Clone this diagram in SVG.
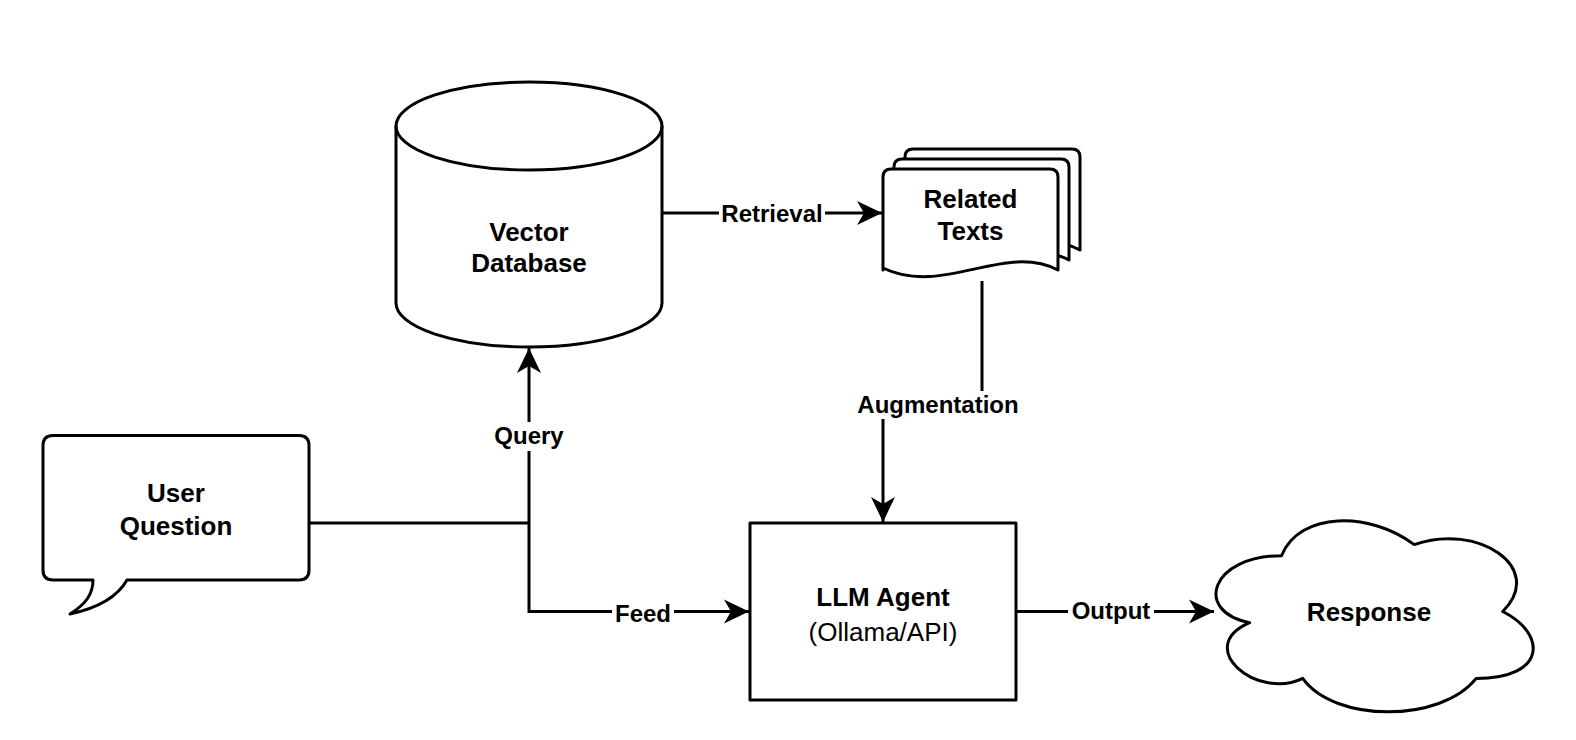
<svg xmlns="http://www.w3.org/2000/svg" width="1576" height="740" viewBox="0 0 1576 740">
<style>
.shape{fill:#fff;stroke:#000;stroke-width:3;stroke-linejoin:round}
.edge{fill:none;stroke:#000;stroke-width:3}
.nt{font-family:"Liberation Sans",Arial,sans-serif;font-size:26px;font-weight:bold;text-anchor:middle;fill:#000}
.nr{font-family:"Liberation Sans",Arial,sans-serif;font-size:26px;text-anchor:middle;fill:#000}
.lt{font-family:"Liberation Sans",Arial,sans-serif;font-size:24px;font-weight:bold;text-anchor:middle;fill:#000}
.bg{fill:#fff}
</style>
<defs>
<marker id="arr" markerUnits="userSpaceOnUse" markerWidth="28" markerHeight="28" viewBox="0 0 28 28" refX="26" refY="14" orient="auto">
<path d="M1,2 L26,14 L1,26 L8,14 Z" fill="#000"/>
</marker>
</defs>
<rect width="1576" height="740" fill="#fff"/>

<g id="connectors">
<path class="edge" d="M662,213 H882" marker-end="url(#arr)"/>
<path class="edge" d="M982,281 V404 H883 V522" marker-end="url(#arr)"/>
<path class="edge" d="M309,523 H529"/>
<path class="edge" d="M529,523 V348" marker-end="url(#arr)"/>
<path class="edge" d="M529,523 V611.5 H749" marker-end="url(#arr)"/>
<path class="edge" d="M1016,611.5 H1214" marker-end="url(#arr)"/>
<rect class="bg" x="719" y="200" width="106" height="26"/>
<text class="lt" x="772" y="221.5">Retrieval</text>
<rect class="bg" x="855" y="391" width="166" height="28"/>
<text class="lt" x="938" y="412.5">Augmentation</text>
<rect class="bg" x="491" y="422" width="76" height="29"/>
<text class="lt" x="529" y="444">Query</text>
<rect class="bg" x="612" y="599" width="62" height="27"/>
<text class="lt" x="643" y="621.5">Feed</text>
<rect class="bg" x="1068" y="597" width="86" height="27"/>
<text class="lt" x="1111" y="619">Output</text>
</g>

<g id="vector-database">
<path class="shape" d="M396,126 A133,44 0 0 1 662,126 V303 A133,44 0 0 1 396,303 Z"/>
<path class="edge" d="M396,126 A133,44 0 0 0 662,126"/>
<text class="nt" x="529" y="241">Vector</text>
<text class="nt" x="529" y="272">Database</text>
</g>

<g id="related-texts">
<path class="shape" d="M905,250 V157 Q905,149 913,149 H1072 Q1080,149 1080,157 V250 C1026,222 965,277 905,248 Z"/>
<path class="shape" d="M894,260 V167 Q894,159 902,159 H1061 Q1069,159 1069,167 V260 C1015,232 954,287 894,258 Z"/>
<path class="shape" d="M883,270 V177 Q883,169 891,169 H1050 Q1058,169 1058,177 V270 C1004,242 943,297 883,268 Z"/>
<text class="nt" x="970.5" y="207.5">Related</text>
<text class="nt" x="970.5" y="240">Texts</text>
</g>

<g id="user-question">
<path class="shape" d="M53,435.5 H299 Q309,435.5 309,445.5 V570 Q309,580 299,580 H127 C118,596 98,608 70,614 C86,604 93,594 93,580 H53 Q43,580 43,570 V445.5 Q43,435.5 53,435.5 Z"/>
<text class="nt" x="176" y="501.5">User</text>
<text class="nt" x="176" y="534.5">Question</text>
</g>

<g id="llm-agent">
<rect class="shape" x="750" y="523" width="266" height="177"/>
<text class="nt" x="883" y="605.5">LLM Agent</text>
<text class="nr" x="883" y="641">(Ollama/API)</text>
</g>

<g id="response">
<path class="shape" transform="translate(1193,500) scale(354,223)" vector-effect="non-scaling-stroke" d="M0.25,0.25 C0.05,0.25 0,0.5 0.16,0.55 C0,0.66 0.18,0.9 0.31,0.8 C0.4,1 0.7,1 0.8,0.8 C1,0.8 1,0.6 0.875,0.5 C1,0.3 0.8,0.1 0.625,0.2 C0.5,0.05 0.3,0.05 0.25,0.25 Z"/>
<text class="nt" x="1369" y="621">Response</text>
</g>
</svg>
